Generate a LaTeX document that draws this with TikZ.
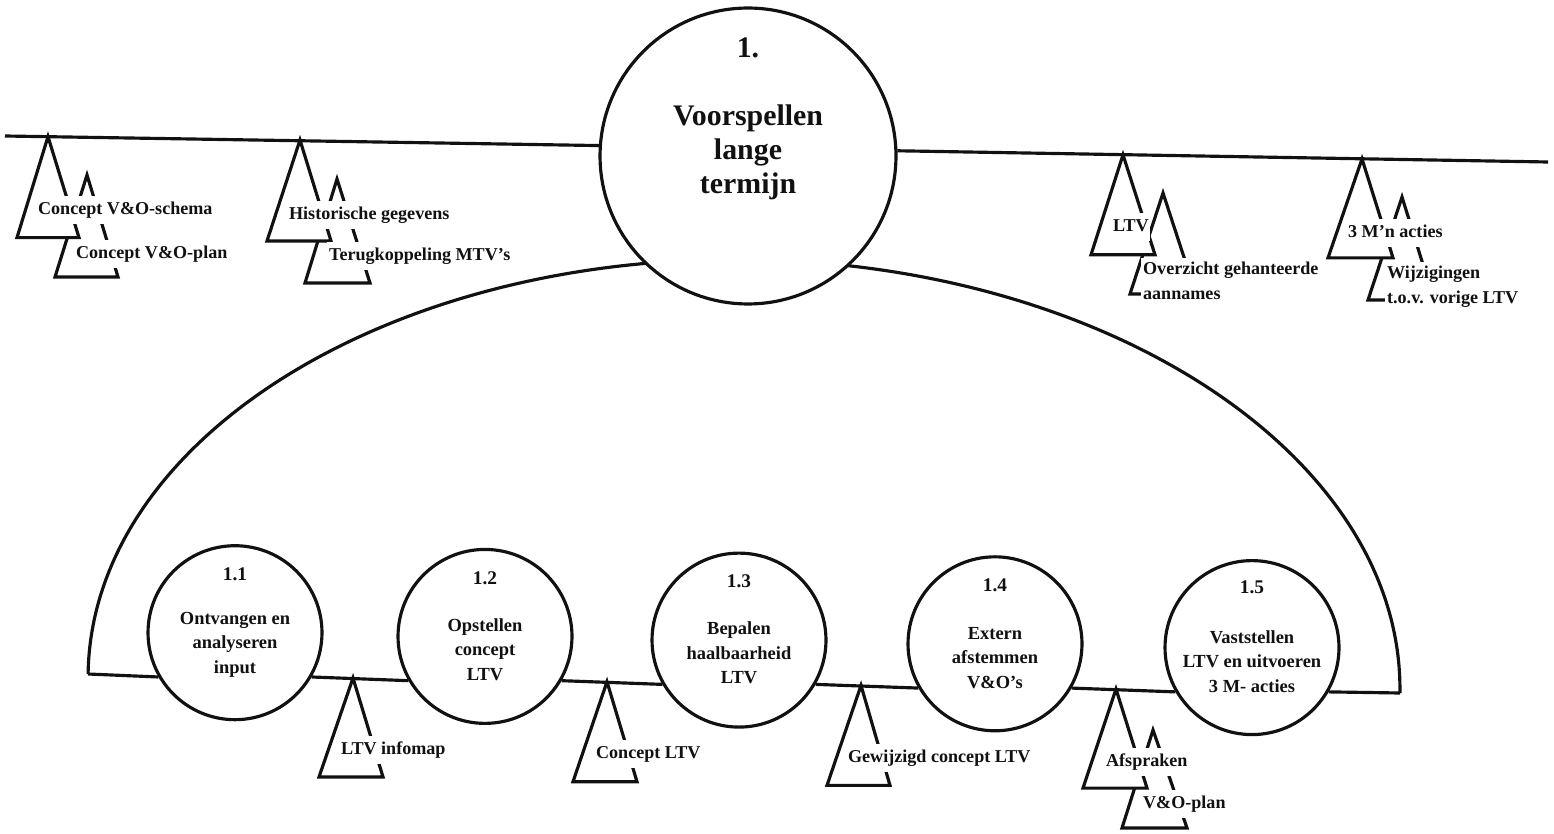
\documentclass[tikz,border=0pt]{standalone}
\usepackage{fontspec}
\setmainfont{Liberation Serif}
\usetikzlibrary{calc}
\definecolor{Ink}{HTML}{111111}
\definecolor{Paper}{HTML}{FFFFFF}

\begin{document}
\begin{tikzpicture}[
  x=0.02cm, y=-0.02cm,
  flow/.style={
    draw=Ink,
    line width=1.8pt
  },
  proc/.style={
    circle,
    draw=Ink,
    line width=1.8pt,
    fill=Paper,
    minimum size=3.48cm,
    inner sep=0pt
  },
  mainproc/.style={
    proc,
    minimum size=5.92cm
  },
  store/.style={
    draw=Ink,
    line width=1.8pt,
    fill=Paper,
    line join=miter
  },
  storetag/.style={
    fill=Paper,
    text=Ink,
    anchor=west,
    inner xsep=1pt,
    inner ysep=2.5pt,
    text height=8pt,
    text depth=2.5pt,
    font=\bfseries\fontsize{10.3}{14.2}\selectfont
  },
  storetags/.style={
    fill=Paper,
    text=Ink,
    anchor=west,
    align=left,
    inner xsep=1pt,
    inner ysep=2.5pt,
    font=\bfseries\fontsize{10.3}{14.4}\selectfont
  },
  procnum/.style={
    text=Ink,
    font=\bfseries\fontsize{11}{13}\selectfont
  },
  proctext/.style={
    text=Ink,
    align=center,
    font=\bfseries\fontsize{10.5}{13.9}\selectfont
  },
  maintext/.style={
    text=Ink,
    align=center,
    font=\bfseries\fontsize{17}{19.4}\selectfont
  }
]

\fill[Paper] (0,0) rectangle (1554,834);
\useasboundingbox (0,0) rectangle (1554,834);

\coordinate (W) at (5,136);
\coordinate (E) at (1548,162);
\coordinate (L) at (88,674);
\coordinate (R) at (1400,693);

\draw[flow, rotate around={-0.83:(744,683.5)}]
  (88,683.5) arc[start angle=180, end angle=360, x radius=656, y radius=424];

\node[mainproc] (main) at (748,156) {};
\node[maintext] (mainnum) at ($(main)+(0,-108)$) {1.};
\node[maintext] (maintitle) at ($(main)+(0,-4)$) {Voorspellen\\lange\\termijn};

\draw[flow] (W) -- (main.176);
\draw[flow] (main.2) -- (E);

\node[proc] (p1) at (235,632.7) {};
\node[proc] (p2) at (485,636.4) {};
\node[proc] (p3) at (739,640.1) {};
\node[proc] (p4) at (995,643.8) {};
\node[proc] (p5) at (1252,647.6) {};

\node[procnum] (p1num) at ($(p1)+(0,-58)$) {1.1};
\node[procnum] (p2num) at ($(p2)+(0,-58)$) {1.2};
\node[procnum] (p3num) at ($(p3)+(0,-59)$) {1.3};
\node[procnum] (p4num) at ($(p4)+(0,-59)$) {1.4};
\node[procnum] (p5num) at ($(p5)+(0,-60)$) {1.5};

\node[proctext] (p1txt) at ($(p1)+(0,12)$) {Ontvangen en\\analyseren\\input};
\node[proctext] (p2txt) at ($(p2)+(0,13)$) {Opstellen\\concept\\LTV};
\node[proctext] (p3txt) at ($(p3)+(0,13)$) {Bepalen\\haalbaarheid\\LTV};
\node[proctext] (p4txt) at ($(p4)+(0,14)$) {Extern\\afstemmen\\V\&O's};
\node[proctext] (p5txt) at ($(p5)+(0,14)$) {Vaststellen\\LTV en uitvoeren\\3 M- acties};

\draw[flow] (L) -- (p1.210);
\draw[flow] (p1.-30) -- (p2.210);
\draw[flow] (p2.-30) -- (p3.210);
\draw[flow] (p3.-30) -- (p4.210);
\draw[flow] (p4.-30) -- (p5.210);
\draw[flow] (p5.-30) -- (R);

\coordinate (s1) at (48,136.6);
\coordinate (s1b) at (87,175);
\coordinate (s2) at (300,140);
\coordinate (s2b) at (337,179);
\coordinate (s3) at (1123,154.8);
\coordinate (s3b) at (1163,193);
\coordinate (s4) at (1362,158.9);
\coordinate (s4b) at (1402,197);
\coordinate (s5) at (353,678);
\coordinate (s6) at (607,681.7);
\coordinate (s7) at (861,685.4);
\coordinate (s8) at (1116,689.1);
\coordinate (s8b) at (1153,730);

\draw[store] (s1b) -- ++(-32,102) -- ++(63,0) -- cycle;
\draw[store] (s1) -- ++(-31,101) -- ++(62,0) -- cycle;
\draw[store] (s2b) -- ++(-32,104) -- ++(65,0) -- cycle;
\draw[store] (s2) -- ++(-33,101) -- ++(64,0) -- cycle;
\draw[store] (s3b) -- ++(-33,101) -- ++(66,0) -- cycle;
\draw[store] (s3) -- ++(-32,100) -- ++(64,0) -- cycle;
\draw[store] (s4b) -- ++(-34,103) -- ++(66,0) -- cycle;
\draw[store] (s4) -- ++(-34,99) -- ++(65,0) -- cycle;
\draw[store] (s5) -- ++(-34,99) -- ++(64,0) -- cycle;
\draw[store] (s6) -- ++(-34,100) -- ++(64,0) -- cycle;
\draw[store] (s7) -- ++(-34,100) -- ++(63,0) -- cycle;
\draw[store] (s8b) -- ++(-31,98) -- ++(65,0) -- cycle;
\draw[store] (s8) -- ++(-33,99) -- ++(64,0) -- cycle;

\node[storetag] (t1) at (36,210) {Concept V\&O-schema};
\node[storetag] (t1b) at (74,254) {Concept V\&O-plan};
\node[storetag] (t2) at (287,215) {Historische gegevens};
\node[storetag] (t2b) at (327,256) {Terugkoppeling MTV's};
\node[storetag] (t3) at (1111,227) {LTV\hspace{5pt}};
\node[storetags] (t3b) at (1141,281) {Overzicht gehanteerde\\aannames};
\node[storetag] (t4) at (1346,233) {3 M'n acties};
\node[storetags] (t4b) at (1385,287) {Wijzigingen\\t.o.v. vorige LTV};
\node[storetag] (t5) at (339,750) {LTV infomap};
\node[storetag] (t6) at (594,754) {Concept LTV};
\node[storetag] (t7) at (846,758) {Gewijzigd concept LTV};
\node[storetag] (t8) at (1104,762) {Afspraken};
\node[storetag] (t8b) at (1141,804) {V\&O-plan};

\end{tikzpicture}
\end{document}
